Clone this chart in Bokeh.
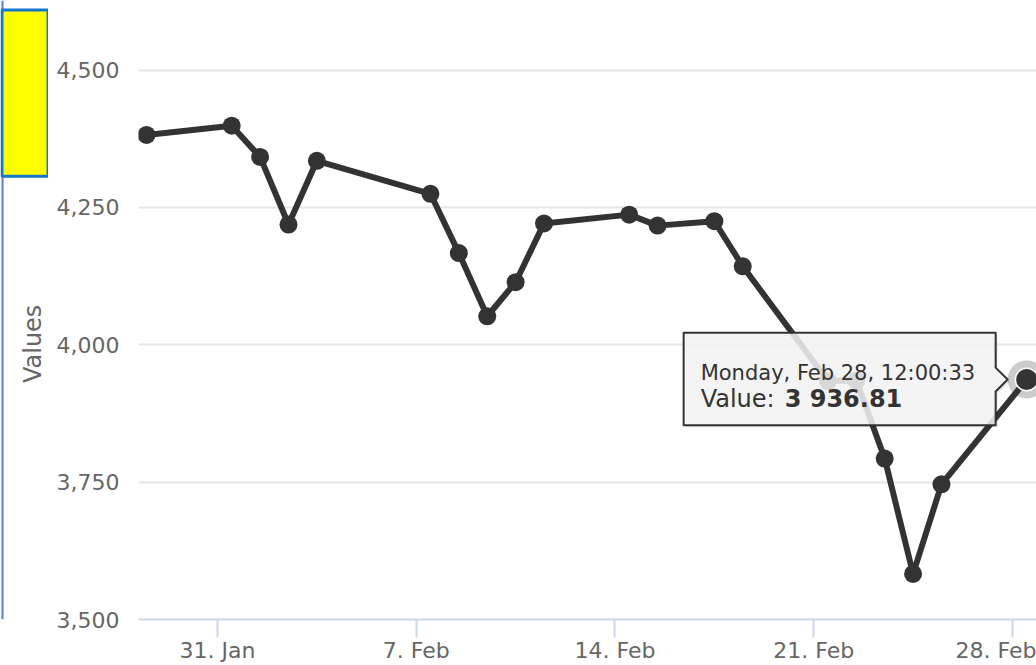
import math
import pandas as pd
from bokeh.plotting import figure
from bokeh.layouts import row
from bokeh.models import FixedTicker, NumeralTickFormatter
from bokeh.embed import file_html
from bokeh.resources import INLINE
from bokeh.core.properties import value

# ---------------- data ----------------
point_times = [
    "2022-01-28 12:00", "2022-01-31 12:00", "2022-02-01 12:00", "2022-02-02 12:00",
    "2022-02-03 12:00", "2022-02-07 12:00", "2022-02-08 12:00", "2022-02-09 12:00",
    "2022-02-10 12:00", "2022-02-11 12:00", "2022-02-14 12:00", "2022-02-15 12:00",
    "2022-02-17 12:00", "2022-02-18 12:00", "2022-02-21 12:00", "2022-02-22 12:00",
    "2022-02-23 12:00", "2022-02-24 12:00", "2022-02-25 12:00", "2022-02-28 12:00:33",
]
point_values = [
    4382, 4399, 4342, 4219, 4335, 4275, 4167, 4052, 4114, 4221,
    4237, 4217, 4225, 4143, 3934, 3935, 3793, 3583, 3746, 3936.81,
]
x_tick_dates = ["2022-01-31", "2022-02-07", "2022-02-14", "2022-02-21", "2022-02-28"]
x_tick_labels = ["31. Jan", "7. Feb", "14. Feb", "21. Feb", "28. Feb"]
y_ticks = [3500, 3750, 4000, 4250, 4500]
y_title = "Values"
tooltip_value_label = "Value: "
hover_index = len(point_values) - 1


def ms(s):
    return int(pd.Timestamp(s).value // 10**6)


xs = [ms(t) for t in point_times]
x_ticks = [ms(t) for t in x_tick_dates]

FONT = "DejaVu Sans"
LINE_COLOR = "#333333"
AXIS_TEXT = "#666666"

# ---------------- layout ----------------
TOTAL_W, FIG_H = 1036, 665
SIDE_W = 48                      # left strip: page border line, yellow box, axis title
FIG_W = TOTAL_W - SIDE_W
LEFT_B, BOTTOM_B = 90, 43        # main plot area starts at x = 138 on the page
frame_w = FIG_W - LEFT_B
frame_h = FIG_H - BOTTOM_B
x0, x1 = ms("2022-01-28 05:12"), ms("2022-02-28 20:20")
y0 = 3500
y1 = y0 + frame_h * (1000 / 552)

# ---------------- left strip (its frame is aligned with the main frame: 0..frame_h) ----------------
side = figure(
    width=SIDE_W, height=FIG_H, x_range=(0, SIDE_W), y_range=(0, frame_h),
    output_backend="svg", toolbar_location=None,
    x_axis_location=None, y_axis_location=None,
    min_border_left=0, min_border_right=0, min_border_top=0, min_border_bottom=BOTTOM_B,
)
side.outline_line_color = None
side.grid.visible = False
side.background_fill_color = "white"
side.border_fill_color = "white"
side.quad(left=[1], right=[3], bottom=[0], top=[frame_h], fill_color="#5b80d0", line_color=None)
side.quad(left=[1.5], right=[47.5], bottom=[frame_h - 176.5], top=[frame_h - 9.5],
          fill_color="#ffff00", line_color="#1476cc", line_width=3)
side.text([32], [frame_h - 345], text=[y_title], angle=math.pi / 2,
          text_font=value(FONT), text_font_size="24px", text_color=AXIS_TEXT,
          text_align="center", text_baseline="middle")

# ---------------- main chart ----------------
p_main = figure(
    width=FIG_W, height=FIG_H,
    x_range=(x0, x1), y_range=(y0, y1),
    output_backend="svg", toolbar_location=None,
    min_border_left=LEFT_B, min_border_right=0,
    min_border_top=0, min_border_bottom=BOTTOM_B,
)
p_main.outline_line_color = None
p_main.background_fill_color = "white"
p_main.border_fill_color = "white"

p_main.xgrid.visible = False
p_main.ygrid.grid_line_color = "#e6e6e6"
p_main.ygrid.grid_line_width = 2

xa = p_main.xaxis[0]
xa.ticker = FixedTicker(ticks=x_ticks)
xa.major_label_overrides = {t: l for t, l in zip(x_ticks, x_tick_labels)}
xa.axis_line_color = "#ccd6eb"
xa.axis_line_width = 2
xa.major_tick_line_color = "#ccd6eb"
xa.major_tick_line_width = 2
xa.major_tick_in = 0
xa.major_tick_out = 18
xa.minor_tick_line_color = None
xa.major_label_standoff = 0
xa.major_label_text_font = FONT
xa.major_label_text_font_size = "22px"
xa.major_label_text_color = AXIS_TEXT

ya = p_main.yaxis[0]
ya.ticker = FixedTicker(ticks=y_ticks)
ya.formatter = NumeralTickFormatter(format="0,0")
ya.axis_line_color = None
ya.major_tick_line_color = None
ya.minor_tick_line_color = None
ya.major_label_standoff = 13
ya.major_label_text_font = FONT
ya.major_label_text_font_size = "22px"
ya.major_label_text_color = AXIS_TEXT

# series
hx, hy = xs[hover_index], point_values[hover_index]
p_main.scatter([hx], [hy], size=38, fill_color=LINE_COLOR, fill_alpha=0.25, line_color=None)
p_main.line(xs, point_values, line_color=LINE_COLOR, line_width=6, line_join="round")
p_main.scatter(xs, point_values, size=18, fill_color=LINE_COLOR, line_color=None)
p_main.scatter([hx], [hy], size=24, fill_color="white", line_color=None)
p_main.scatter([hx], [hy], size=21, fill_color=LINE_COLOR, line_color=None)

# tooltip (pixel offsets from the hovered point, converted via the scales)
px2x = (x1 - x0) / frame_w
px2y = (y1 - y0) / frame_h


def at(dx, dy):
    return hx + dx * px2x, hy - dy * px2y


shape = [(-343, -47), (-31, -47), (-31, -12), (-19, 0), (-31, 12), (-31, 46), (-343, 46)]
sh = [at(dx + 2, dy + 2) for dx, dy in shape]
p_main.patch([a for a, b in sh], [b for a, b in sh], fill_color="black", fill_alpha=0.10, line_color=None)
bx = [at(dx, dy) for dx, dy in shape]
p_main.patch([a for a, b in bx], [b for a, b in bx], fill_color="#f7f7f7", fill_alpha=0.85,
             line_color=LINE_COLOR, line_width=2, line_join="round")

ts = pd.Timestamp(point_times[hover_index])
line1 = f"{ts:%A}, {ts:%b} {ts.day}, {ts:%H:%M:%S}"
val_txt = f"{point_values[hover_index]:,.2f}".replace(",", " ")

t1x, t1y = at(-326, -7)
p_main.text([t1x], [t1y], text=[line1], text_font=value(FONT), text_font_size="21px",
            text_color="#333333", text_baseline="alphabetic", text_align="left")
t2x, t2y = at(-326, 20)
p_main.text([t2x], [t2y], text=[tooltip_value_label], text_font=value(FONT), text_font_size="24px",
            text_color="#333333", text_baseline="alphabetic", text_align="left")
t3x, t3y = at(-242, 20)
p_main.text([t3x], [t3y], text=[val_txt], text_font=value(FONT), text_font_size="24px",
            text_font_style="bold", text_color="#333333", text_baseline="alphabetic", text_align="left")

p = row(side, p_main, spacing=0)

open("out.html", "w").write(file_html(p, INLINE))
